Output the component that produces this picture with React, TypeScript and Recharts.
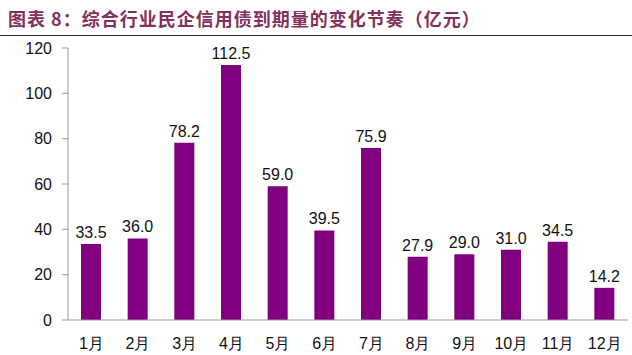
import { Bar, BarChart, LabelList, XAxis, YAxis } from "recharts";

const months = ["1月", "2月", "3月", "4月", "5月", "6月", "7月", "8月", "9月", "10月", "11月", "12月"];
const maturity = [33.5, 36.0, 78.2, 112.5, 59.0, 39.5, 75.9, 27.9, 29.0, 31.0, 34.5, 14.2];
const yTicks = [0, 20, 40, 60, 80, 100, 120];

const data = months.map((m, i) => ({ month: m, value: maturity[i] }));

export default function App() {
  return (
    <div style={{ position: "absolute", left: 0, top: 0, width: 632, height: 355, background: "#fff", fontFamily: "'Liberation Sans', Arial, sans-serif" }}>
      <div
        style={{
          position: "absolute",
          left: 8,
          top: 6,
          fontFamily: "'Noto Sans CJK SC', sans-serif",
          fontSize: 18,
          fontWeight: 700,
          color: "#84305c",
          letterSpacing: 1,
          whiteSpace: "nowrap",
          lineHeight: "24px",
        }}
      >
        图表 8：综合行业民企信用债到期量的变化节奏（亿元）
      </div>
      <div style={{ position: "absolute", left: 0, top: 35, width: 632, height: 1, background: "#333" }} />
      <BarChart
        width={632}
        height={355}
        data={data}
        margin={{ top: 48, right: 4, bottom: 0, left: 0 }}
        style={{ position: "absolute", left: 0, top: 0 }}
      >
        <XAxis
          dataKey="month"
          axisLine={{ stroke: "#999" }}
          tickLine={false}
          tick={{ fill: "#111", fontSize: 16 }}
          tickMargin={12}
          height={35}
        />
        <YAxis
          domain={[0, 120]}
          ticks={yTicks}
          width={68}
          axisLine={{ stroke: "#999" }}
          tickLine={{ stroke: "#999" }}
          tickSize={6}
          tickMargin={10}
          tick={{ fill: "#111", fontSize: 16 }}
        />
        <Bar dataKey="value" fill="#800080" barSize={20} isAnimationActive={false}>
          <LabelList
            dataKey="value"
            position="top"
            offset={6}
            formatter={(v: number) => v.toFixed(1)}
            style={{ fill: "#111", fontSize: 16 }}
          />
        </Bar>
      </BarChart>
    </div>
  );
}
